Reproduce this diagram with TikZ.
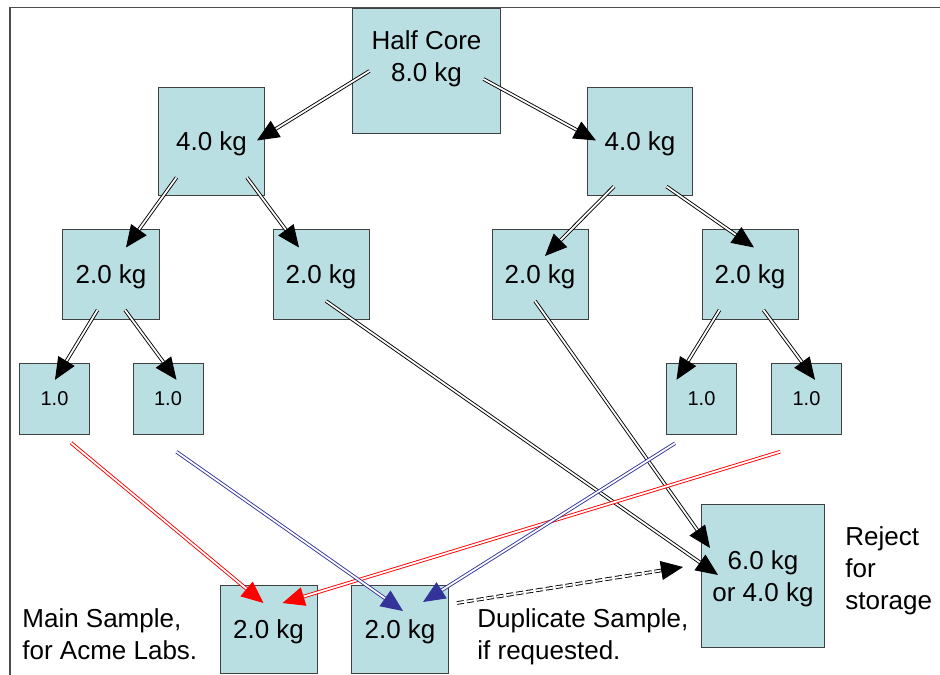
\documentclass[tikz,border=0pt]{standalone}
\usepackage{fontspec}
\setmainfont{Liberation Sans}
\usetikzlibrary{arrows.meta}
\definecolor{boxfill}{RGB}{186,223,226}
\definecolor{dupblue}{RGB}{51,51,153}
\tikzset{
  box/.style={draw=black!75,fill=boxfill,line width=0.5bp,inner sep=0pt,text depth=0pt,
    font=\fontsize{13bp}{16bp}\selectfont},
  dbl/.style={double,double distance=0.9bp,line width=0.45bp,
    -{Triangle[length=11bp,width=9.5bp]}},
  txt/.style={inner sep=0pt,align=left,font=\fontsize{13bp}{16bp}\selectfont},
}

\begin{document}
\begin{tikzpicture}[x=0.5bp,y=-0.5bp]
\useasboundingbox (0,0) rectangle (940,675);
\draw[black!70,line width=0.6bp] (10,675)--(10,7.5)--(940,7.5);
% boxes
\node[box,minimum width=74bp,minimum height=62bp] (core) at (426.5,71) {};
\node[txt,align=center,text depth=0pt] (corelbl) at ([shift={(0,-15)}]core.center) {Half Core\\8.0 kg};
\node[box,minimum width=52.5bp,minimum height=53.5bp] (l4) at (211.5,141.5) {4.0 kg};
\node[box,minimum width=52.5bp,minimum height=53.5bp] (r4) at (640,141.5) {4.0 kg};
\node[box,minimum width=48bp,minimum height=44.5bp] (a2) at (111,274.5) {2.0 kg};
\node[box,minimum width=48bp,minimum height=44.5bp] (b2) at (321,274.5) {2.0 kg};
\node[box,minimum width=48bp,minimum height=44.5bp] (c2) at (540,274.5) {2.0 kg};
\node[box,minimum width=48bp,minimum height=44.5bp] (d2) at (750,274.5) {2.0 kg};
\node[box,minimum width=35bp,minimum height=35.5bp,font=\fontsize{10bp}{12bp}\selectfont] (oa) at (54.5,398.8) {1.0};
\node[box,minimum width=35bp,minimum height=35.5bp,font=\fontsize{10bp}{12bp}\selectfont] (ob) at (168,398.8) {1.0};
\node[box,minimum width=35bp,minimum height=35.5bp,font=\fontsize{10bp}{12bp}\selectfont] (oc) at (701.5,398.8) {1.0};
\node[box,minimum width=35bp,minimum height=35.5bp,font=\fontsize{10bp}{12bp}\selectfont] (od) at (806.5,398.8) {1.0};
\node[box,minimum width=48.5bp,minimum height=44bp] (main) at (268.5,629) {2.0 kg};
\node[box,minimum width=48.5bp,minimum height=44bp] (dup) at (400,629) {2.0 kg};
\node[box,minimum width=61.5bp,minimum height=71bp,align=center] (rej) at (763,576) {6.0 kg\\or 4.0 kg};
% labels
\node[txt,anchor=north west] (mainlbl) at (22,608) {Main Sample,\\for Acme Labs.};
\node[txt,anchor=north west] (duplbl) at (477,608) {Duplicate Sample,\\if requested.};
\node[txt,anchor=north west] (rejlbl) at (845,526) {Reject\\for\\storage};
% splitting
\draw[dbl] ([shift={(-57,0)}]core.center)--([shift={(45.5,-1)}]l4.center);
\draw[dbl] ([shift={(57,8)}]core.center)--([shift={(-44,-1)}]r4.center);
\draw[dbl] ([shift={(-35,36)}]l4.center)--([shift={(15,-27)}]a2.center);
\draw[dbl] ([shift={(35.5,36)}]l4.center)--([shift={(-22,-27)}]b2.center);
\draw[dbl] ([shift={(-26,45)}]r4.center)--([shift={(5,-18.5)}]c2.center);
\draw[dbl] ([shift={(26.5,45)}]r4.center)--([shift={(4,-27)}]d2.center);
\draw[dbl] ([shift={(-13.5,35.5)}]a2.center)--([shift={(0.5,-19)}]oa.center);
\draw[dbl] ([shift={(14,35.5)}]a2.center)--([shift={(8.5,-19)}]ob.center);
\draw[dbl] ([shift={(-30.5,35.5)}]d2.center)--([shift={(-25,-19)}]oc.center);
\draw[dbl] ([shift={(13.5,35.5)}]d2.center)--([shift={(8.5,-19)}]od.center);
% reject
\draw[dbl] ([shift={(5,26.5)}]b2.center)--([shift={(-45,-1)}]rej.center);
\draw[dbl] ([shift={(-5,26.5)}]c2.center)--([shift={(-53,-28)}]rej.center);
% main and duplicate
\draw[dbl,red] ([shift={(16.5,44)}]oa.center)--([shift={(-5,-26)}]main.center);
\draw[dbl,red] ([shift={(-26.5,53)}]od.center)--([shift={(14,-26)}]main.center);
\draw[dbl,dupblue] ([shift={(8.5,53)}]ob.center)--([shift={(3,-18)}]dup.center);
\draw[dbl,dupblue] ([shift={(-26.5,44.5)}]oc.center)--([shift={(23,-27)}]dup.center);
\draw[dbl,dash pattern=on 3.5bp off 1.5bp] ([shift={(57,-26)}]dup.center)--([shift={(-80,-9)}]rej.center);
\end{tikzpicture}
\end{document}
